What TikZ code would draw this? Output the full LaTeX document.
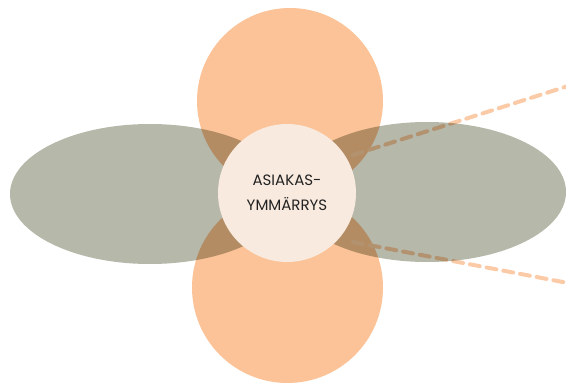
\documentclass[tikz,border=0pt]{standalone}
\usepackage{fontspec}
\setmainfont{Poppins}
\definecolor{petal}{HTML}{FBC397}
\definecolor{sage}{HTML}{B6B8AA}
\definecolor{core}{HTML}{F8EADF}
\definecolor{dashc}{HTML}{FBCBA8}
\definecolor{ink}{HTML}{222222}
\tikzset{
  petalfill/.style={fill=petal, draw=none},
  leaffill/.style={fill=sage, draw=none},
  guide/.style={draw=dashc, line width=4pt, dash pattern=on 10pt off 7pt, line cap=round},
}
\begin{document}
\begin{tikzpicture}[x=1pt,y=-1pt]
  \useasboundingbox (0,0) rectangle (566,383);
  % orange petals above and below
  \fill[petalfill] (290,101) circle (93);
  \fill[petalfill] (287.5,287.5) circle (95.5);
  % dashed guide lines towards the right
  \coordinate (g1s) at (353,155);
  \coordinate (g1e) at (568,86);
  \coordinate (g2s) at (353,242);
  \coordinate (g2e) at (568,283);
  \draw[guide] (g1s) -- (g1e);
  \draw[guide] (g2s) -- (g2e);
  % sage leaves, multiplied over the petals
  \begin{scope}[blend mode=multiply]
    \fill[leaffill] (150,194) ellipse (140 and 70);
    \fill[leaffill] (427,192) ellipse (139 and 70);
  \end{scope}
  % centre
  \node[circle, fill=core, minimum size=138pt, inner sep=0pt, align=center,
        text=ink, font=\fontsize{15}{24.5}\selectfont] (c) at (287,193)
        {ASIAKAS-\\YMMÄRRYS};
\end{tikzpicture}
\end{document}
